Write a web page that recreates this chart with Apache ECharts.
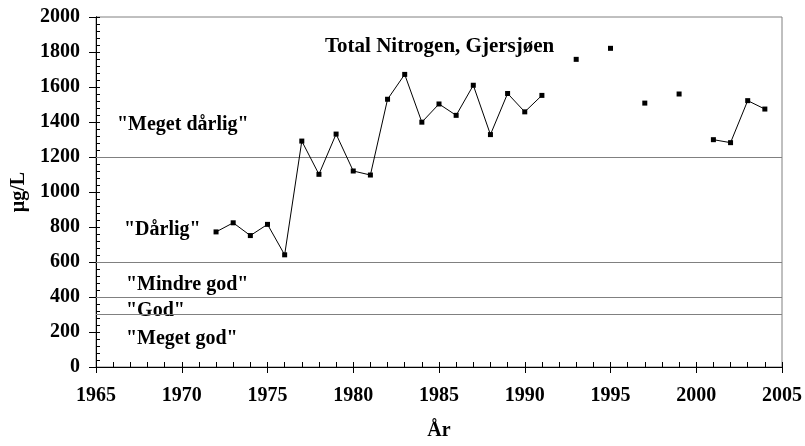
<!DOCTYPE html>
<html>
<head>
<meta charset="utf-8">
<script src="https://cdn.jsdelivr.net/npm/echarts@6/dist/echarts.min.js"></script>
<style>
  html, body { margin: 0; padding: 0; background: #fff; }
  #chart { width: 805px; height: 446px; }
</style>
</head>
<body>
<div id="chart"></div>
<script>
// years and total nitrogen (µg/L); null = no measurement that year
const years = [1972, 1973, 1974, 1975, 1976, 1977, 1978, 1979, 1980, 1981,
  1982, 1983, 1984, 1985, 1986, 1987, 1988, 1989, 1990, 1991,
  1992, 1993, 1994, 1995, 1996, 1997, 1998, 1999, 2000,
  2001, 2002, 2003, 2004];
const nitrogen = [772, 824, 751, 815, 641, 1291, 1101, 1331, 1120, 1097,
  1530, 1672, 1399, 1503, 1438, 1610, 1328, 1563, 1458, 1552,
  null, 1758, null, 1821, null, 1508, null, 1560, null,
  1299, 1282, 1522, 1474];
// class limits
const classLimits = [300, 400, 600, 1200];
const xTicks = [1965, 2005];
const yTicks = [0, 2000];

const FONT = '"Liberation Serif", "Times New Roman", serif';
const boldFont = (size) => 'bold ' + size + 'px ' + FONT;

const chart = echarts.init(document.getElementById('chart'));

const seriesData = years.map((y, i) => [y, nitrogen[i] == null ? '-' : nitrogen[i]]);

const baseX = {
  type: 'value',
  min: xTicks[0],
  max: xTicks[1],
  interval: 5,
  position: 'bottom',
  splitLine: { show: false },
  axisLine: { lineStyle: { color: '#000', width: 1 } }
};
const baseY = {
  type: 'value',
  min: yTicks[0],
  max: yTicks[1],
  interval: 200,
  position: 'left',
  splitLine: { show: false },
  axisLine: { show: true, lineStyle: { color: '#000', width: 1 } }
};

chart.setOption({
  animation: false,
  backgroundColor: '#fff',
  title: {
    text: 'Total Nitrogen, Gjersjøen',
    left: 320,
    top: 31,
    textStyle: { fontFamily: FONT, fontWeight: 'bold', fontSize: 21, color: '#000' }
  },
  grid: {
    left: 96,
    right: 21,
    top: 17,
    bottom: 73,
    show: true,
    borderColor: '#808080',
    borderWidth: 1
  },
  xAxis: [
    Object.assign({}, baseX, {
      name: 'År',
      nameLocation: 'middle',
      nameGap: 54,
      nameTextStyle: { fontFamily: FONT, fontWeight: 'bold', fontSize: 20, color: '#000' },
      axisTick: { show: true, length: 6, lineStyle: { color: '#000' } },
      axisLabel: { margin: 19, fontFamily: FONT, fontWeight: 'bold', fontSize: 20, color: '#000',
        formatter: (v) => String(v) }
    }),
    Object.assign({}, baseX, {
      axisTick: { show: true, inside: true, length: 5, lineStyle: { color: '#000' } },
      minorTick: { show: true, splitNumber: 5, length: 5, lineStyle: { color: '#000' } },
      axisLabel: { show: false }
    })
  ],
  yAxis: [
    Object.assign({}, baseY, {
      name: 'µg/L',
      nameLocation: 'middle',
      nameGap: 61,
      nameTextStyle: { fontFamily: FONT, fontWeight: 'bold', fontSize: 20, color: '#000' },
      axisTick: { show: true, length: 7, lineStyle: { color: '#000' } },
      axisLabel: { margin: 16, fontFamily: FONT, fontWeight: 'bold', fontSize: 20, color: '#000',
        formatter: (v) => String(v) }
    }),
    Object.assign({}, baseY, {
      axisTick: { show: true, inside: true, length: 4, lineStyle: { color: '#000' } },
      minorTick: { show: true, splitNumber: 5, length: 4, lineStyle: { color: '#000' } },
      axisLabel: { show: false }
    })
  ],
  graphic: [
    { type: 'text', style: { text: '"Meget dårlig"', x: 117, y: 125, verticalAlign: 'middle', font: boldFont(20), fill: '#000' } },
    { type: 'text', style: { text: '"Dårlig"', x: 124, y: 230, verticalAlign: 'middle', font: boldFont(20), fill: '#000' } },
    { type: 'text', style: { text: '"Mindre god"', x: 126, y: 285, verticalAlign: 'middle', font: boldFont(20), fill: '#000' } },
    { type: 'text', style: { text: '"God"', x: 126, y: 311, verticalAlign: 'middle', font: boldFont(20), fill: '#000' } },
    { type: 'text', style: { text: '"Meget god"', x: 126, y: 339, verticalAlign: 'middle', font: boldFont(20), fill: '#000' } }
  ],
  series: [
    {
      name: 'Total N',
      type: 'line',
      xAxisIndex: 0,
      yAxisIndex: 0,
      data: seriesData,
      connectNulls: false,
      symbol: 'rect',
      symbolSize: 5,
      showAllSymbol: true,
      lineStyle: { color: '#000', width: 1 },
      itemStyle: { color: '#000' },
      z: 5,
      markLine: {
        silent: true,
        symbol: 'none',
        label: { show: false },
        lineStyle: { color: '#808080', width: 1, type: 'solid' },
        data: classLimits.map((v) => ({ yAxis: v }))
      }
    }
  ]
});
</script>
</body>
</html>
